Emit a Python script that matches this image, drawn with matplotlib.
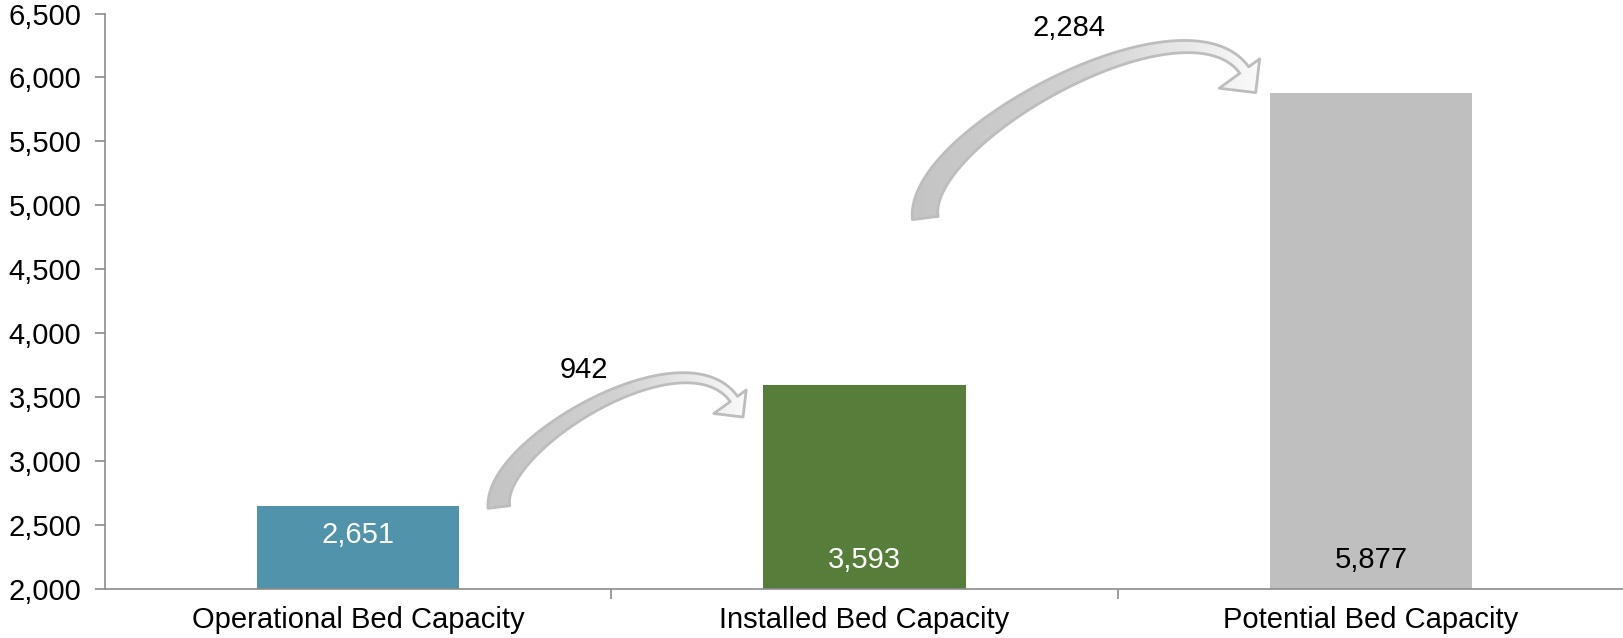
import matplotlib
matplotlib.use("Agg")
import matplotlib.pyplot as plt
import numpy as np
from matplotlib.patches import Polygon
from matplotlib.colors import LinearSegmentedColormap

categories = ["Operational Bed Capacity", "Installed Bed Capacity", "Potential Bed Capacity"]
values = [2651, 3593, 5877]
increments = [942, 2284]
bar_colors = ["#5093AB", "#567E3A", "#BFBFBF"]
label_colors = ["white", "white", "black"]
yticks = list(range(2000, 7000, 500))

plt.rcParams['font.family'] = ['Liberation Sans', 'DejaVu Sans']

fig = plt.figure(figsize=(16.24, 6.38), dpi=100)
ax = fig.add_axes([0.0647, 0.0768, 0.9353, 0.902])

x = np.arange(len(categories))
ax.bar(x, values, width=0.4, color=bar_colors, zorder=2)

axis_col = "#8C8C8C"
ax.set_ylim(2000, 6500)
ax.set_xlim(-0.5, 2.5)
ax.set_yticks(yticks)
ax.set_yticklabels([f"{v:,}" for v in yticks], fontsize=21)
ax.set_xticks(x)
ax.set_xticklabels(categories, fontsize=21)
ax.set_xticks([0.5, 1.5], minor=True)
ax.tick_params(axis='x', which='major', length=0, pad=12)
ax.tick_params(axis='x', which='minor', length=7, color=axis_col, width=1.2)
ax.tick_params(axis='y', length=7, color=axis_col, width=1.2, pad=10)
for s in ["top", "right"]:
    ax.spines[s].set_visible(False)
for s in ["left", "bottom"]:
    ax.spines[s].set_color(axis_col)
    ax.spines[s].set_linewidth(1.2)

# value labels inside bars
label_y = [2421, 2227, 2227]
for xi, v, c, ly in zip(x, values, label_colors, label_y):
    ax.text(xi, ly, f"{v:,}", ha='center', va='center', fontsize=21, color=c, zorder=4)

cmap = LinearSegmentedColormap.from_list("g", ["#C4C4C4", "#D2D2D2", "#FAFAFA"])


def curved_arrow(ax, tail, head, angA, angB, L1, L2, w0, w1, hw, hl, n=120):
    """Tapered curved block arrow; geometry built in display pixels."""
    T = ax.transData
    p0 = T.transform(tail)
    p3 = T.transform(head)
    dA = np.array([np.cos(np.radians(angA)), np.sin(np.radians(angA))])
    dB = np.array([np.cos(np.radians(angB)), np.sin(np.radians(angB))])
    p1 = p0 + L1 * dA
    p2 = p3 - L2 * dB
    t = np.linspace(0, 1, n)[:, None]
    c = (1 - t) ** 3 * p0 + 3 * (1 - t) ** 2 * t * p1 + 3 * (1 - t) * t ** 2 * p2 + t ** 3 * p3
    d = 3 * (1 - t) ** 2 * (p1 - p0) + 6 * (1 - t) * t * (p2 - p1) + 3 * t ** 2 * (p3 - p2)
    d = d / np.linalg.norm(d, axis=1)[:, None]
    nrm = np.column_stack([-d[:, 1], d[:, 0]])
    w = (w1 + (w0 - w1) * (1 - t[:, 0]) ** 1.6) / 2
    left = c + nrm * w[:, None]
    right = c - nrm * w[:, None]
    nB = np.array([-dB[1], dB[0]])
    wing_out = p3 + nB * hw * 0.38
    wing_in = p3 - nB * hw * 0.62
    tip = p3 + hl * dB - nB * hw * 0.08
    poly = np.vstack([left, wing_out, tip, wing_in, right[::-1]])
    poly_d = T.inverted().transform(poly)
    patch = Polygon(poly_d, closed=True, facecolor='none', edgecolor='#BDBDBD',
                    lw=2.0, joinstyle='round', zorder=3)
    ax.add_patch(patch)
    grad = np.linspace(0, 1, 256).reshape(1, -1)
    im = ax.imshow(grad, extent=[poly_d[:, 0].min(), poly_d[:, 0].max(),
                                 poly_d[:, 1].min(), poly_d[:, 1].max()],
                   aspect='auto', cmap=cmap, zorder=2.8, origin='lower')
    im.set_clip_path(patch)
    return patch


# arrows: tail point, head-base point (data), plus shape styling in pixels
arrow_specs = [
    dict(tail=(0.278, 2641), head=(0.742, 3486), angA=97, angB=-54, L1=62, L2=85,
         w0=22, w1=9, hw=40, hl=20, label=(0.445, 3716)),
    dict(tail=(1.120, 4901), head=(1.750, 6058), angA=97, angB=-54, L1=82, L2=100,
         w0=26, w1=11, hw=50, hl=25, label=(1.404, 6387)),
]
for spec, inc in zip(arrow_specs, increments):
    lp = spec.pop("label")
    curved_arrow(ax, **spec)
    ax.text(lp[0], lp[1], f"{inc:,}", ha='center', va='center', fontsize=21,
            color='black', zorder=4)

ax.set_ylim(2000, 6500)
ax.set_xlim(-0.5, 2.5)

fig.savefig("out.png", dpi=100)
